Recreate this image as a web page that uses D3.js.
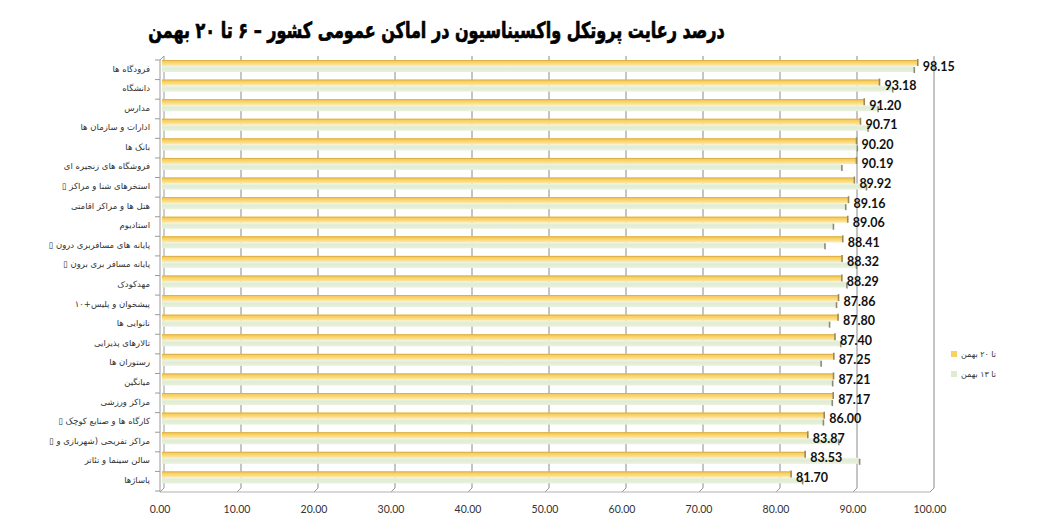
<!DOCTYPE html>
<html><head><meta charset="utf-8">
<script src="https://cdn.jsdelivr.net/npm/d3@7"></script>
<style>
html,body{margin:0;padding:0;background:#fff;}
svg{display:block;}
</style></head>
<body>
<svg id="chart" width="1045" height="523"></svg>
<script>
const categories = [
  "فرودگاه ها","دانشگاه","مدارس","ادارات و سازمان ها","بانک ها","فروشگاه های زنجیره ای",
  "▯ استخرهای شنا و مراکز","هتل ها و مراکز اقامتی","استادیوم","▯ پایانه های مسافربری درون",
  "▯ پایانه مسافر بری برون","مهدکودک","پیشخوان و پلیس+۱۰","نانوایی ها","تالارهای پذیرایی",
  "رستوران ها","میانگین","مراکز ورزشی","▯ کارگاه ها و صنایع کوچک","▯ مراکز تفریحی (شهربازی و",
  "سالن سینما و تئاتر","پاساژها"
];
const valuesTo20 = [98.15,93.18,91.20,90.71,90.20,90.19,89.92,89.16,89.06,88.41,88.32,88.29,87.86,87.80,87.40,87.25,87.21,87.17,86.00,83.87,83.53,81.70];
const valuesTo13 = [97.7,94.9,93.0,91.7,90.3,88.3,91.5,88.8,87.2,86.1,90.2,88.95,87.6,86.7,88.15,85.6,87.1,87.05,85.9,87.9,90.6,83.2];
const seriesNames = ["تا ۲۰ بهمن","تا ۱۳ بهمن"];
const xTicks = [0,10,20,30,40,50,60,70,80,90,100];
const title = "درصد رعایت پروتکل واکسیناسیون در اماکن عمومی کشور – ۶ تا ۲۰ بهمن";

const svg = d3.select("#chart");
const defs = svg.append("defs");
const gy = defs.append("linearGradient").attr("id","gy").attr("x1",0).attr("y1",0).attr("x2",0).attr("y2",1);
gy.append("stop").attr("offset","0%").attr("stop-color","#f4c84e");
gy.append("stop").attr("offset","45%").attr("stop-color","#fad36a");
gy.append("stop").attr("offset","100%").attr("stop-color","#fdebb2");
const gg = defs.append("linearGradient").attr("id","gg").attr("x1",0).attr("y1",0).attr("x2",0).attr("y2",1);
gg.append("stop").attr("offset","0%").attr("stop-color","#eef4e6");
gg.append("stop").attr("offset","40%").attr("stop-color","#e0ecd3");
gg.append("stop").attr("offset","100%").attr("stop-color","#e8f1de");

const dx = 4, dy = 4; // 3D depth offset
const xFront = d3.scaleLinear().domain([0,100]).range([160,930]);
const xBack = d3.scaleLinear().domain([0,100]).range([164,934]);
const xBar = d3.scaleLinear().domain([0,100]).range([162,932]);
const yBand = d3.scaleBand().domain(categories).range([58,489]).paddingInner(0).paddingOuter(0);
const floorY = 492, wallTop = 56, wallBottom = floorY - dy;

// title (scaled horizontally to the reference width)
const tg = svg.append("g");
const tt = tg.append("text").attr("x",0).attr("y",0).attr("text-anchor","middle")
  .attr("font-family","DejaVu Sans").attr("font-weight","bold").attr("font-size",22)
  .attr("fill","#000").attr("stroke","#000").attr("stroke-width",0.7).text(title);
const tw = tt.node().getComputedTextLength();
const sx = 577 / tw;
tg.attr("transform",`translate(436.5,38) scale(${sx},1)`);

// back wall gridlines
const grid = svg.append("g");
grid.selectAll("line.g").data(xTicks).join("line")
  .attr("x1",d=>xBack(d)).attr("x2",d=>xBack(d)).attr("y1",wallTop).attr("y2",wallBottom)
  .attr("stroke",d=>d===0?"#9a9a9a":"#8a8a8a").attr("stroke-width",1);
// floor diagonals
grid.selectAll("line.d").data(xTicks).join("line")
  .attr("x1",d=>xFront(d)).attr("x2",d=>xBack(d)).attr("y1",floorY).attr("y2",wallBottom)
  .attr("stroke","#9a9a9a").attr("stroke-width",1);
// floor front line
grid.append("line").attr("x1",xFront(0)).attr("x2",xFront(100)).attr("y1",floorY).attr("y2",floorY)
  .attr("stroke","#b0b0b0").attr("stroke-width",1);
// left axis
grid.append("line").attr("x1",xFront(0)).attr("x2",xFront(0)).attr("y1",wallTop+dy).attr("y2",floorY)
  .attr("stroke","#9a9a9a");
grid.append("line").attr("x1",xFront(0)).attr("x2",xBack(0)).attr("y1",wallTop+dy).attr("y2",wallTop)
  .attr("stroke","#9a9a9a");
const bounds = categories.map(c=>yBand(c)).concat([yBand.range()[1]]);
grid.selectAll("line.t").data(bounds).join("line")
  .attr("x1",xFront(0)-5).attr("x2",xFront(0)).attr("y1",d=>d+2).attr("y2",d=>d+2)
  .attr("stroke","#9a9a9a");

// bars
const bars = svg.append("g");
const yTopY = c => yBand(c) + 2;
const yTopG = c => yBand(c) + 8;
bars.selectAll("rect.g").data(categories).join("rect")
  .attr("x",xBar(0)).attr("y",c=>yTopG(c)).attr("height",6)
  .attr("width",(c,i)=>xBar(valuesTo13[i])-xBar(0)).attr("fill","url(#gg)");
bars.selectAll("line.ge").data(categories).join("line")
  .attr("x1",(c,i)=>xBar(valuesTo13[i])).attr("x2",(c,i)=>xBar(valuesTo13[i]))
  .attr("y1",c=>yTopG(c)+1).attr("y2",c=>yTopG(c)+7)
  .attr("stroke","#8a8a78").attr("stroke-width",1.6);
bars.selectAll("rect.y").data(categories).join("rect")
  .attr("x",xBar(0)).attr("y",c=>yTopY(c)).attr("height",6)
  .attr("width",(c,i)=>xBar(valuesTo20[i])-xBar(0)).attr("fill","url(#gy)");
bars.selectAll("line.yt").data(categories).join("line")
  .attr("x1",xBar(0)).attr("x2",(c,i)=>xBar(valuesTo20[i]))
  .attr("y1",c=>yTopY(c)+0.5).attr("y2",c=>yTopY(c)+0.5)
  .attr("stroke","#dcb04a").attr("stroke-width",1);
bars.selectAll("line.ye").data(categories).join("line")
  .attr("x1",(c,i)=>xBar(valuesTo20[i])).attr("x2",(c,i)=>xBar(valuesTo20[i]))
  .attr("y1",c=>yTopY(c)-1).attr("y2",c=>yTopY(c)+6)
  .attr("stroke","#9a8a5a").attr("stroke-width",1.6);

// value labels
svg.append("g").selectAll("text").data(categories).join("text")
  .attr("x",(c,i)=>xBar(valuesTo20[i])+5).attr("y",c=>yBand(c)+12.5)
  .attr("font-family","Lato").attr("font-weight","bold").attr("font-size",12.5)
  .attr("fill","#111").text((c,i)=>valuesTo20[i].toFixed(2));

// category labels
svg.append("g").selectAll("text").data(categories).join("text")
  .attr("x",150).attr("y",c=>yBand(c)+13.5).attr("text-anchor","end")
  .attr("font-family","DejaVu Sans").attr("font-size",8.5).attr("fill","#333")
  .text(c=>c);

// x-axis labels
svg.append("g").selectAll("text").data(xTicks).join("text")
  .attr("x",d=>xFront(d)).attr("y",513).attr("text-anchor","middle")
  .attr("font-family","Lato").attr("font-size",10.5).attr("fill","#333")
  .text(d=>d.toFixed(2));

// legend
const legColors = ["#f9d266","#dfeccf"];
const leg = svg.append("g");
seriesNames.forEach((s,i)=>{
  const y = 354 + i*20;
  leg.append("rect").attr("x",951).attr("y",y-3).attr("width",6).attr("height",6).attr("fill",legColors[i]);
  leg.append("text").attr("x",961).attr("y",y+3).attr("font-family","DejaVu Sans")
    .attr("font-size",8).attr("fill","#333").text(s);
});
</script>
</body></html>
